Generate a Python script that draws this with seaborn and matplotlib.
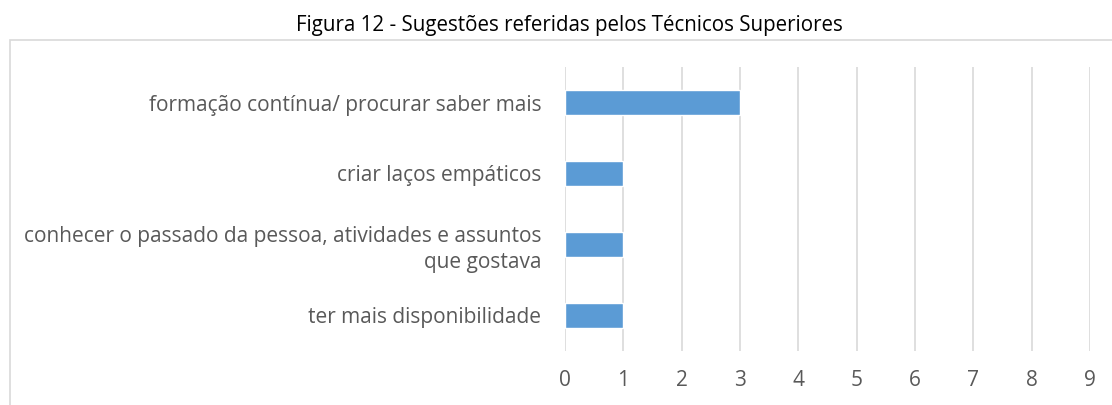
import matplotlib
matplotlib.use("Agg")
import matplotlib.pyplot as plt
import seaborn as sns
import pandas as pd
from matplotlib.patches import Rectangle

categories = [
    "formação contínua/ procurar saber mais",
    "criar laços empáticos",
    "conhecer o passado da pessoa, atividades e assuntos\nque gostava",
    "ter mais disponibilidade",
]
values = [3, 1, 1, 1]
x_ticks = [0, 1, 2, 3, 4, 5, 6, 7, 8, 9]
title = "Figura 12 - Sugestões referidas pelos Técnicos Superiores"

sns.set_theme(style="white")
plt.rcParams['font.family'] = ['Open Sans', 'DejaVu Sans']

df = pd.DataFrame({"cat": categories, "val": values})

fig = plt.figure(figsize=(11.12, 4.05), dpi=100)
ax = fig.add_axes([565/1112, 54/405, 525/1112, 284/405])

sns.barplot(data=df, y="cat", x="val", orient="h", color="#5B9BD5",
            saturation=1, width=0.35, ax=ax)

ax.set_xlim(0, 9)
ax.set_xticks(x_ticks)
ax.set_xticklabels([str(t) for t in x_ticks])
ax.set_xlabel("")
ax.set_ylabel("")
for s in ax.spines.values():
    s.set_visible(False)
ax.grid(axis="x", color="#d9d9d9", linewidth=1.2)
ax.set_axisbelow(True)
ax.tick_params(axis="x", length=0, pad=14, labelsize=15, labelcolor="#595959")
ax.tick_params(axis="y", length=0, pad=17, labelsize=15, labelcolor="#595959")
for lbl in ax.get_yticklabels():
    lbl.set_horizontalalignment("right")
    lbl.set_multialignment("right")
    lbl.set_linespacing(1.3)

fig.text(569.5/1112, 1 - 26/405, title, ha="center", va="center", fontsize=14.8, color="#000000")

rect = Rectangle((10/1112, -0.05), 1.2, 1 - 40/405 + 0.05, transform=fig.transFigure,
                 fill=False, edgecolor="#d9d9d9", linewidth=1.2)
fig.add_artist(rect)

fig.savefig("out.png", dpi=100)
